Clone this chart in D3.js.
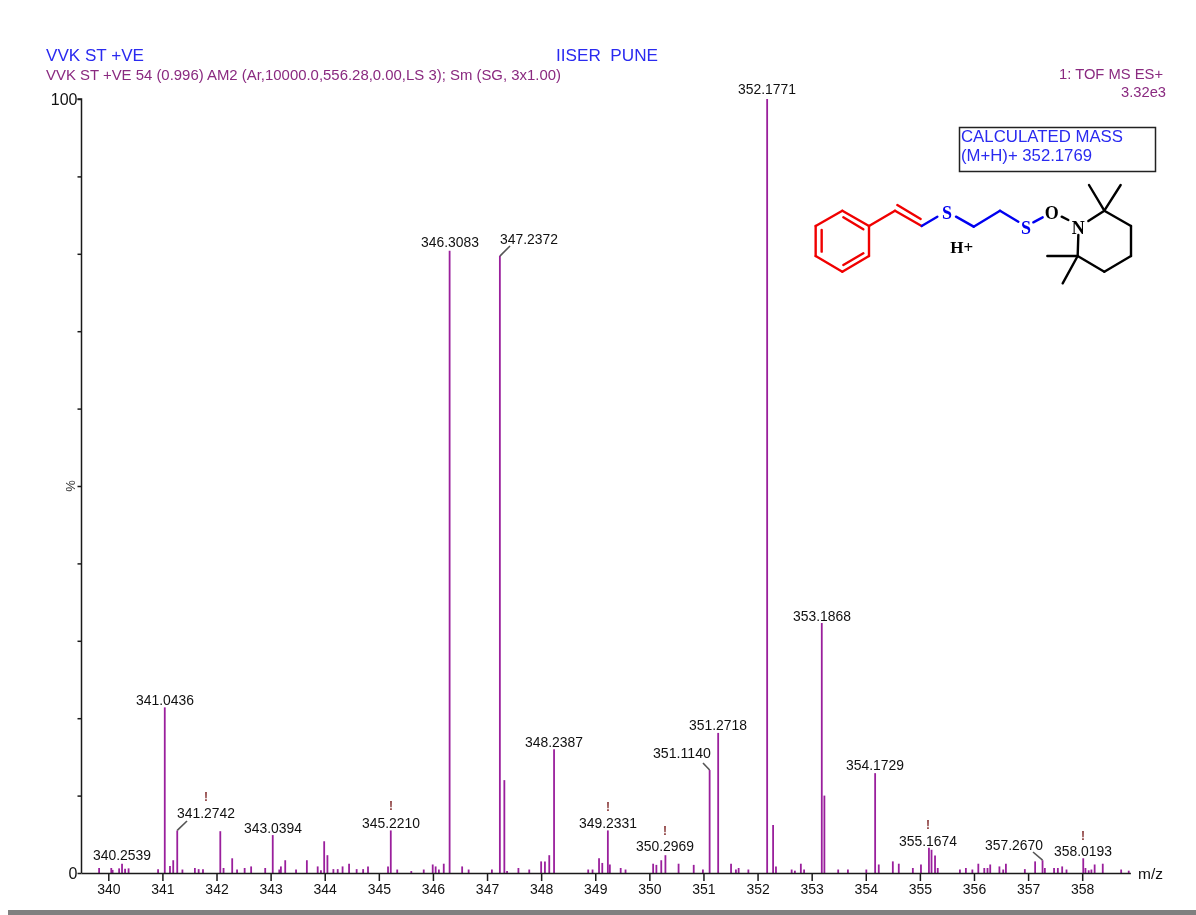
<!DOCTYPE html>
<html><head><meta charset="utf-8">
<script src="https://cdn.jsdelivr.net/npm/d3@7"></script>
<style>
html,body{margin:0;padding:0;background:#fff;overflow:hidden}
svg{display:block;filter:blur(0.4px)}
text{font-family:"Liberation Sans",Arial,sans-serif}
</style></head><body><div id="chart"></div>
<script>
const mzValues = [339.83,340.055,340.08,340.20,340.2539,340.31,340.375,340.92,341.0436,341.14,341.20,341.2742,341.37,341.60,341.67,341.75,342.07,342.13,342.29,342.38,342.52,342.64,342.90,343.0394,343.16,343.19,343.27,343.47,343.67,343.87,343.93,343.99,344.05,344.16,344.24,344.33,344.45,344.59,344.71,344.80,345.17,345.2210,345.34,345.60,345.83,345.996,346.05,346.11,346.20,346.3083,346.54,346.66,347.09,347.2372,347.32,347.37,347.58,347.78,348.00,348.07,348.15,348.2387,348.87,348.95,349.07,349.13,349.2331,349.27,349.47,349.56,350.07,350.13,350.22,350.2969,350.54,350.82,350.99,351.1140,351.2718,351.51,351.60,351.65,351.83,352.1771,352.287,352.34,352.63,352.69,352.80,352.86,353.1868,353.235,353.49,353.67,354.01,354.1729,354.24,354.50,354.61,354.87,355.02,355.1674,355.215,355.28,355.33,355.74,355.85,355.97,356.08,356.19,356.25,356.30,356.47,356.54,356.59,356.94,357.13,357.2670,357.31,357.48,357.55,357.63,357.71,358.0193,358.06,358.12,358.17,358.23,358.38,358.72,358.86];
const intensities = [0.65,0.65,0.4,0.6,1.2,0.55,0.6,0.5,21.4,0.9,1.65,5.5,0.45,0.65,0.5,0.5,5.4,0.65,1.9,0.45,0.65,0.85,0.65,4.9,0.45,0.85,1.65,0.45,1.65,0.85,0.35,4.1,2.3,0.5,0.5,0.85,1.2,0.5,0.5,0.85,0.85,5.5,0.45,0.25,0.45,1.1,0.85,0.45,1.2,80.4,0.85,0.45,0.45,79.7,12,0.25,0.65,0.45,1.5,1.5,2.3,16,0.45,0.45,1.9,1.3,5.5,1.1,0.65,0.45,1.2,1.05,1.65,2.3,1.2,1.05,0.45,13.3,18.1,1.2,0.45,0.65,0.45,100,6.2,0.85,0.45,0.3,1.2,0.45,32.3,10,0.45,0.45,0.45,12.9,1.1,1.5,1.2,0.65,1.1,3.25,3.0,2.25,0.65,0.45,0.65,0.45,1.2,0.65,0.65,1.1,0.85,0.45,1.2,0.5,1.5,1.65,0.65,0.65,0.65,0.85,0.45,1.9,0.65,0.35,0.45,1.1,1.2,0.45,0.3];
const xTickValues = d3.range(340, 359);
const yTickValues = d3.range(0, 101, 10);
const peakLabels = ["340.2539","341.0436","341.2742","343.0394","345.2210","346.3083","347.2372","348.2387","349.2331","350.2969","351.1140","351.2718","352.1771","353.1868","354.1729","355.1674","357.2670","358.0193"];

// label layout: centre x, centre y, whether a "!" sits above, optional leader
const labelLayout = {
 "340.2539":{x:122,y:855},"341.0436":{x:165,y:700},
 "341.2742":{x:206,y:813,bang:797,leader:[187,821]},
 "343.0394":{x:273,y:828},"345.2210":{x:391,y:823,bang:806},
 "346.3083":{x:450,y:242},"347.2372":{x:529,y:239,leader:[510,246]},
 "348.2387":{x:554,y:742},"349.2331":{x:608,y:823,bang:807},
 "350.2969":{x:665,y:846,bang:831},"351.1140":{x:682,y:753,leader:[703,763]},
 "351.2718":{x:718,y:725},"352.1771":{x:767,y:89},"353.1868":{x:822,y:616},
 "354.1729":{x:875,y:765},"355.1674":{x:928,y:841,bang:825},
 "357.2670":{x:1014,y:845,leader:[1033,852]},"358.0193":{x:1083,y:851,bang:836}
};

const W=1196,H=915;
const svg=d3.select("#chart").append("svg").attr("width",W).attr("height",H);
const x=d3.scaleLinear().domain([340,358]).range([108.3,1082.2]);
const y=d3.scaleLinear().domain([0,100]).range([873,99]);
const axisEnd=x(358.9);
const ink="#1a1a1a", purple="#9a1f9c";

svg.append("rect").attr("x",8).attr("y",910).attr("width",W-8).attr("height",5).attr("fill","#808080");

// bars
svg.append("g").selectAll("line").data(mzValues).join("line")
 .attr("x1",d=>x(d)).attr("x2",d=>x(d)).attr("y1",y(0))
 .attr("y2",(d,i)=>y(intensities[i]))
 .attr("stroke",purple).attr("stroke-width",1.8);

// x axis
const gx=svg.append("g").attr("transform",`translate(0,${y(0)})`)
 .call(d3.axisBottom(x).tickValues(xTickValues).tickFormat(d3.format("d")).tickSize(8).tickPadding(3));
gx.select(".domain").attr("d",`M81.5,0.5H${axisEnd}`).attr("stroke",ink).attr("stroke-width",1.5);
gx.selectAll("line").attr("stroke",ink).attr("stroke-width",1.5);
gx.selectAll("text").attr("font-size",14).attr("fill","#111").attr("font-family","Liberation Sans");

// y axis
const gy=svg.append("g").attr("transform","translate(81.5,0)")
 .call(d3.axisLeft(y).tickValues(yTickValues).tickFormat(d=>(d===0||d===100)?d:"").tickSize(4).tickPadding(0));
gy.select(".domain").attr("d",`M-4,${y(100)}H0V${y(0)}`).attr("stroke",ink).attr("stroke-width",1.5);
gy.selectAll("line").attr("stroke",ink).attr("stroke-width",1.5);
gy.selectAll("text").attr("font-size",16).attr("fill","#111").attr("font-family","Liberation Sans");
svg.append("text").attr("transform",`translate(75,${y(50)}) rotate(-90)`).attr("text-anchor","middle")
 .attr("font-size",13).attr("fill","#333").text("%");
svg.append("text").attr("x",1138).attr("y",879).attr("font-size",14).attr("fill","#111")
 .attr("textLength",25).attr("lengthAdjust","spacingAndGlyphs").text("m/z");

// peak labels
const lab=svg.append("g");
peakLabels.forEach(t=>{
 const L=labelLayout[t], mz=+t, i=mzValues.indexOf(mz);
 lab.append("text").attr("x",L.x).attr("y",L.y).attr("dy","0.36em").attr("text-anchor","middle")
  .attr("font-size",14).attr("textLength",58).attr("lengthAdjust","spacingAndGlyphs").attr("fill","#111").text(t);
 if(L.bang) lab.append("text").attr("x",L.x).attr("y",L.bang).attr("dy","0.36em").attr("text-anchor","middle")
  .attr("font-size",12).attr("fill","#8a3a3a").attr("font-weight","bold").text("!");
 if(L.leader) lab.append("line").attr("x1",x(mz)).attr("y1",y(intensities[i]))
  .attr("x2",L.leader[0]).attr("y2",L.leader[1]).attr("stroke","#555").attr("stroke-width",1.6);
});

// header
const hdr=[
 {t:"VVK ST +VE",x:46,y:61,s:16,c:"#2a2af0",w:98},
 {t:"IISER  PUNE",x:556,y:61,s:16,c:"#2a2af0",w:102},
 {t:"VVK ST +VE 54 (0.996) AM2 (Ar,10000.0,556.28,0.00,LS 3); Sm (SG, 3x1.00)",x:46,y:80,s:14,c:"#8a2a80",w:515},
 {t:"1: TOF MS ES+",x:1059,y:79,s:14,c:"#8a2a80",w:104},
 {t:"3.32e3",x:1121,y:97,s:14,c:"#8a2a80",w:45}
];
svg.append("g").selectAll("text").data(hdr).join("text")
 .attr("x",d=>d.x).attr("y",d=>d.y).attr("font-size",d=>d.s).attr("fill",d=>d.c)
 .attr("textLength",d=>d.w).attr("lengthAdjust","spacingAndGlyphs").style("white-space","pre").text(d=>d.t);

// calculated mass box
svg.append("rect").attr("x",959.5).attr("y",127.5).attr("width",196).attr("height",44)
 .attr("fill","#fff").attr("stroke","#222").attr("stroke-width",1.5);
[["CALCULATED MASS",142,162],["(M+H)+ 352.1769",161,131]].forEach(([t,by,w])=>{
 svg.append("text").attr("x",961).attr("y",by).attr("font-size",16).attr("fill","#2a2af0")
  .attr("textLength",w).attr("lengthAdjust","spacingAndGlyphs").text(t);
});

// structure (zoomed-crop coordinates mapped onto the page)
const mx=d3.scaleLinear().domain([0,3]).range([800,801]);
const my=d3.scaleLinear().domain([0,3]).range([120,121]);
const bonds={
 "#f00000":[[127,272,207,318],[207,318,207,408],[207,408,127,455],[127,455,47,408],[47,408,47,318],[47,318,127,272],
  [130,292,190,328],[65,330,65,395],[130,435,190,400],[207,318,285,272],[285,272,365,318],[292,255,362,297]],
 "#0000f0":[[365,318,412,290],[468,290,521,320],[521,320,600,272],[600,272,655,305],[700,307,728,292]],
 "#000000":[[785,290,805,300],[865,303,913,272],[913,272,993,318],[993,318,993,408],[993,408,913,455],[913,455,833,408],[833,408,835,345],
  [913,272,867,195],[913,272,962,195],[833,408,742,408],[833,408,788,490]]
};
const mol=svg.append("g");
Object.entries(bonds).forEach(([c,segs])=>{
 mol.append("g").selectAll("line").data(segs).join("line")
  .attr("x1",d=>mx(d[0])).attr("y1",d=>my(d[1])).attr("x2",d=>mx(d[2])).attr("y2",d=>my(d[3]))
  .attr("stroke",c).attr("stroke-width",2.4).attr("stroke-linecap","round");
});
[["S",441,278,"#0000f0",18],["S",678,323,"#0000f0",18],["O",755,278,"#000",18],["N",835,322,"#000",18],["H+",485,380,"#000",17]].forEach(([t,a,b,c,s])=>{
 mol.append("text").attr("x",mx(a)).attr("y",my(b)).attr("dy","0.35em").attr("text-anchor","middle")
  .style("font-family","'Liberation Serif'").attr("font-weight","bold").attr("font-size",s).attr("fill",c).text(t);
});
</script></body></html>
